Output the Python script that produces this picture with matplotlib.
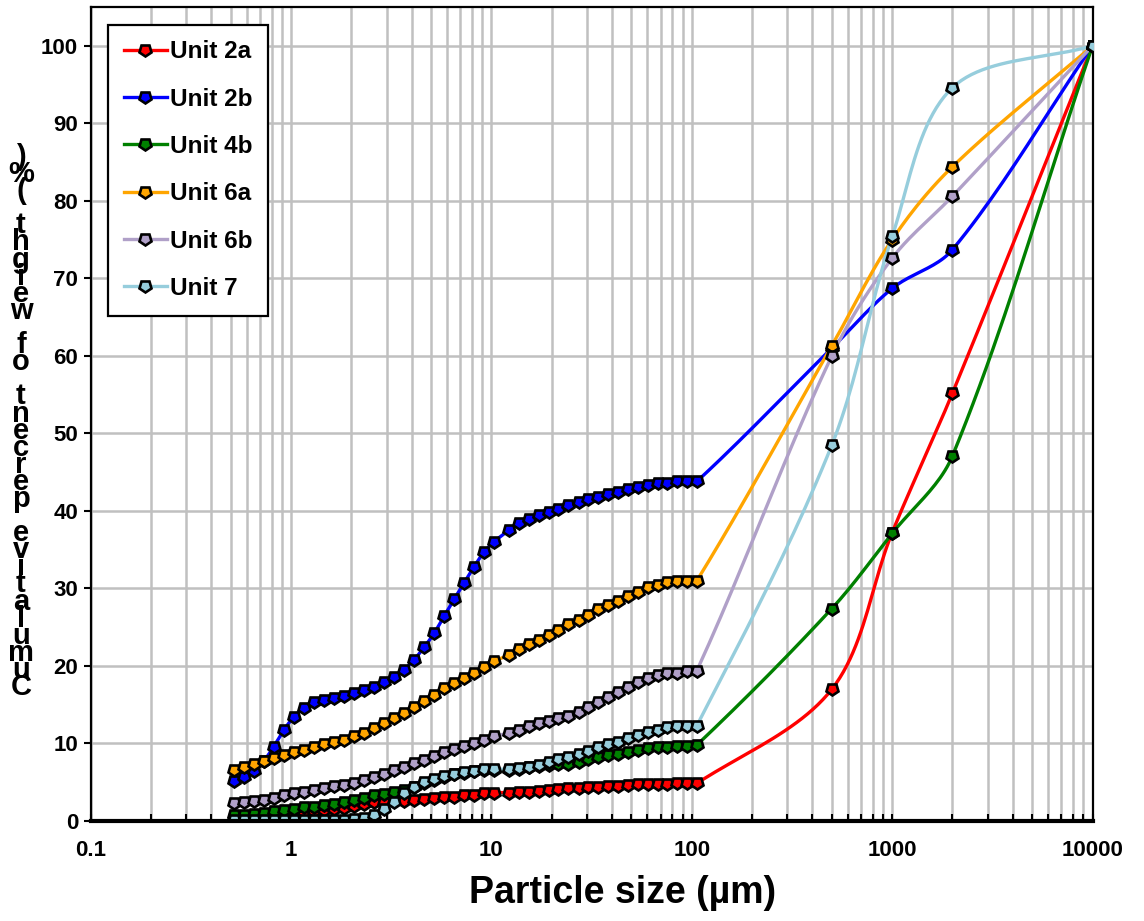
import numpy as np
import matplotlib
matplotlib.use("Agg")
import matplotlib.pyplot as plt
from matplotlib.markers import MarkerStyle
from matplotlib.transforms import Affine2D
from matplotlib.ticker import FixedLocator, NullFormatter

plt.rcParams['font.family'] = ['Liberation Sans', 'DejaVu Sans']
plt.rcParams['font.weight'] = 'bold'

# Laser-diffraction size classes (µm), two instrument ranges
laser_sizes = [0.517, 0.580, 0.651, 0.730, 0.819, 0.919, 1.03, 1.16, 1.30, 1.46,
               1.64, 1.83, 2.06, 2.31, 2.59, 2.91, 3.26, 3.66, 4.11, 4.61,
               5.17, 5.80, 6.51, 7.30, 8.19, 9.19, 10.3,
               12.2, 13.7, 15.4, 17.2, 19.3, 21.6, 24.2, 27.2, 30.4, 34.1,
               38.2, 42.8, 48.0, 53.7, 60.2, 67.5, 75.6, 84.7, 94.9, 106.0]
# Sieve sizes (µm)
sieve_sizes = [500, 1000, 2000, 10000]

unit_2a_laser = [0.50, 0.55, 0.65, 0.75, 0.85, 0.95, 1.05, 1.20, 1.30, 1.45,
                 1.55, 1.70, 1.95, 2.20, 2.45, 2.50, 2.55, 2.60, 2.71, 2.80,
                 2.92, 3.05, 3.14, 3.30, 3.35, 3.57, 3.66,
                 3.66, 3.78, 3.78, 3.91, 4.00, 4.09, 4.20, 4.20, 4.35, 4.43,
                 4.52, 4.52, 4.65, 4.73, 4.73, 4.73, 4.78, 4.86, 4.86, 4.86]
unit_2a_sieve = [17.0, 37.2, 55.2, 100.0]

unit_2b_laser = [5.2, 5.7, 6.4, 7.7, 9.6, 11.7, 13.4, 14.6, 15.3, 15.6,
                 15.9, 16.1, 16.5, 16.9, 17.3, 17.9, 18.6, 19.5, 20.8, 22.4,
                 24.2, 26.4, 28.6, 30.7, 32.8, 34.7, 36.0,
                 37.5, 38.4, 38.9, 39.5, 39.9, 40.3, 40.8, 41.1, 41.5, 41.8,
                 42.2, 42.5, 42.8, 43.1, 43.4, 43.6, 43.6, 43.8, 43.8, 43.8]
unit_2b_sieve = [61.0, 68.7, 73.7, 100.0]

unit_4b_laser = [0.75, 0.80, 0.90, 1.05, 1.25, 1.40, 1.60, 1.75, 1.85, 2.05,
                 2.25, 2.50, 2.70, 2.90, 3.30, 3.45, 3.75, 4.00, 4.35, 4.90,
                 5.35, 5.70, 6.00, 6.25, 6.40, 6.55, 6.60,
                 6.60, 6.70, 6.90, 7.05, 7.20, 7.30, 7.35, 7.60, 8.00, 8.30,
                 8.50, 8.70, 8.95, 9.15, 9.35, 9.50, 9.60, 9.70, 9.70, 9.80]
unit_4b_sieve = [27.4, 37.1, 47.1, 100.0]

unit_6a_laser = [6.6, 6.9, 7.3, 7.7, 8.1, 8.5, 8.9, 9.2, 9.6, 9.9,
                 10.15, 10.45, 10.9, 11.4, 11.95, 12.6, 13.25, 13.9, 14.7, 15.5,
                 16.3, 17.1, 17.8, 18.4, 19.05, 19.8, 20.6,
                 21.4, 22.2, 22.8, 23.4, 24.0, 24.6, 25.4, 25.9, 26.6, 27.3,
                 27.9, 28.4, 29.0, 29.6, 30.2, 30.5, 30.8, 30.9, 31.0, 31.0]
unit_6a_sieve = [61.3, 75.0, 84.4, 100.0]

unit_6b_laser = [2.35, 2.40, 2.60, 2.75, 2.95, 3.35, 3.55, 3.8, 4.05, 4.3,
                 4.5, 4.7, 4.95, 5.29, 5.65, 6.1, 6.55, 7.0, 7.44, 7.9,
                 8.4, 8.9, 9.3, 9.68, 10.0, 10.5, 10.97,
                 11.3, 11.7, 12.2, 12.6, 12.9, 13.25, 13.5, 14.1, 14.7, 15.4,
                 16.0, 16.7, 17.3, 17.9, 18.5, 18.8, 19.05, 19.1, 19.4, 19.4]
unit_6b_sieve = [60.0, 72.6, 80.6, 100.0]

unit_7_laser = [0.10, 0.10, 0.10, 0.10, 0.10, 0.10, 0.10, 0.10, 0.12, 0.12,
                0.15, 0.18, 0.22, 0.40, 0.77, 1.52, 2.50, 3.55, 4.40, 5.0,
                5.45, 5.75, 6.10, 6.35, 6.50, 6.65, 6.67,
                6.67, 6.80, 7.0, 7.2, 7.55, 7.96, 8.3, 8.7, 9.07, 9.6,
                9.94, 10.2, 10.7, 11.1, 11.5, 11.8, 12.1, 12.2, 12.3, 12.3]
unit_7_sieve = [48.5, 75.4, 94.6, 100.0]

labels = ['Unit 2a', 'Unit 2b', 'Unit 4b', 'Unit 6a', 'Unit 6b', 'Unit 7']
colors = ['#ff0000', '#0000ff', '#008000', '#ffa500', '#b0a0c8', '#96cddc']
series = [(unit_2a_laser, unit_2a_sieve), (unit_2b_laser, unit_2b_sieve),
          (unit_4b_laser, unit_4b_sieve), (unit_6a_laser, unit_6a_sieve),
          (unit_6b_laser, unit_6b_sieve), (unit_7_laser, unit_7_sieve)]

y_label = 'Cumulative percent of weight (%)'

FIG_W, FIG_H = 1144, 921
AX_RECT = [0.0793, 0.1086, 0.8757, 0.8838]
XLIM, YLIM = (0.1, 10000), (0, 105)
# on-screen size of one decade / one percent, used for smoothing
PX_PER_DECADE = AX_RECT[2] * FIG_W / np.log10(XLIM[1] / XLIM[0])
PX_PER_UNIT = AX_RECT[3] * FIG_H / (YLIM[1] - YLIM[0])


def smooth_curve(xs, ys, samples=24):
    """Chord-length weighted cardinal Bezier smoothing in screen space."""
    pts = np.column_stack([np.log10(xs) * PX_PER_DECADE,
                           np.asarray(ys) * PX_PER_UNIT])
    n = len(pts)
    out = [pts[0]]
    t = np.linspace(0, 1, samples)[1:, None]
    for i in range(n - 1):
        p0 = pts[max(i - 1, 0)]
        p1 = pts[i]
        p2 = pts[i + 1]
        p3 = pts[min(i + 2, n - 1)]
        d01 = np.hypot(*(p1 - p0))
        d12 = np.hypot(*(p2 - p1))
        d23 = np.hypot(*(p3 - p2))
        c1 = p1 + (p2 - p0) * d12 / (3.0 * (d01 + d12)) if d01 + d12 > 0 else p1
        c2 = p2 - (p3 - p1) * d12 / (3.0 * (d12 + d23)) if d12 + d23 > 0 else p2
        seg = ((1 - t) ** 3) * p1 + 3 * ((1 - t) ** 2) * t * c1 \
            + 3 * (1 - t) * t ** 2 * c2 + t ** 3 * p2
        out.extend(seg)
    out = np.array(out)
    return 10 ** (out[:, 0] / PX_PER_DECADE), out[:, 1] / PX_PER_UNIT


fig = plt.figure(figsize=(FIG_W / 100, FIG_H / 100), dpi=100)
ax = fig.add_axes(AX_RECT)

marker = MarkerStyle('p', transform=Affine2D().rotate_deg(180))
mstyle = dict(marker=marker, ms=9, mec='black', mew=1.9)

for (laser, sieve), lab, col in zip(series, labels, colors):
    xs = np.array(laser_sizes + sieve_sizes, dtype=float)
    ys = np.array(laser + sieve, dtype=float)
    sx, sy = smooth_curve(xs, ys)
    ax.plot(sx, sy, color=col, lw=2.4, solid_capstyle='round', zorder=3)
    ax.plot(xs, ys, ls='none', mfc=col, zorder=4, **mstyle)
    # legend proxy
    ax.plot([], [], color=col, lw=2.4, mfc=col, label=lab, **mstyle)

ax.set_xscale('log')
ax.set_xlim(*XLIM)
ax.set_ylim(*YLIM)

ax.set_yticks(np.arange(0, 101, 10))
ax.set_xticks([0.1, 1, 10, 100, 1000, 10000])
ax.set_xticklabels(['0.1', '1', '10', '100', '1000', '10000'])
minor = [m * 10.0 ** e for e in range(-1, 4) for m in range(2, 10)]
ax.xaxis.set_minor_locator(FixedLocator(minor))
ax.xaxis.set_minor_formatter(NullFormatter())

ax.grid(True, which='both', axis='x', color='#c0c0c0', lw=1.8, zorder=0)
ax.grid(True, which='major', axis='y', color='#c0c0c0', lw=1.8, zorder=0)
ax.set_axisbelow(True)

ax.tick_params(axis='x', which='both', direction='in', length=5, width=1.5,
               labelsize=16, pad=14)
ax.tick_params(axis='y', which='major', direction='out', length=5, width=1.5,
               labelsize=16, pad=4)
for lbl in ax.get_xticklabels() + ax.get_yticklabels():
    lbl.set_fontweight('bold')

for side in ['left', 'top', 'right']:
    ax.spines[side].set_linewidth(1.6)
    ax.spines[side].set_color('black')
ax.spines['bottom'].set_linewidth(3.0)
ax.spines['bottom'].set_zorder(5)

# horizontal axis title
fig.text(623 / FIG_W, 1 - 893 / FIG_H, 'Particle size (µm)', fontsize=27,
         fontweight='bold', ha='center', va='center')

leg = ax.legend(loc='upper left', bbox_to_anchor=(0.017, 0.9785), fontsize=17.5,
                handlelength=1.8, handletextpad=0.1, labelspacing=1.0,
                borderpad=0.65, fancybox=False, framealpha=1, borderaxespad=0)
leg.get_frame().set_edgecolor('black')
leg.get_frame().set_linewidth(1.6)
for t in leg.get_texts():
    t.set_fontweight('bold')

# Stacked vertical axis title, read from bottom ("C") to top (")")
chars = list(y_label[::-1])
top_px, step_px = 157.0, 17.1
for i, ch in enumerate(chars):
    if ch == ' ':
        continue
    fig.text(21 / FIG_W, 1 - (top_px + i * step_px) / FIG_H, ch, fontsize=21,
             fontweight='bold', ha='center', va='center')

fig.savefig('out.png', dpi=100)
